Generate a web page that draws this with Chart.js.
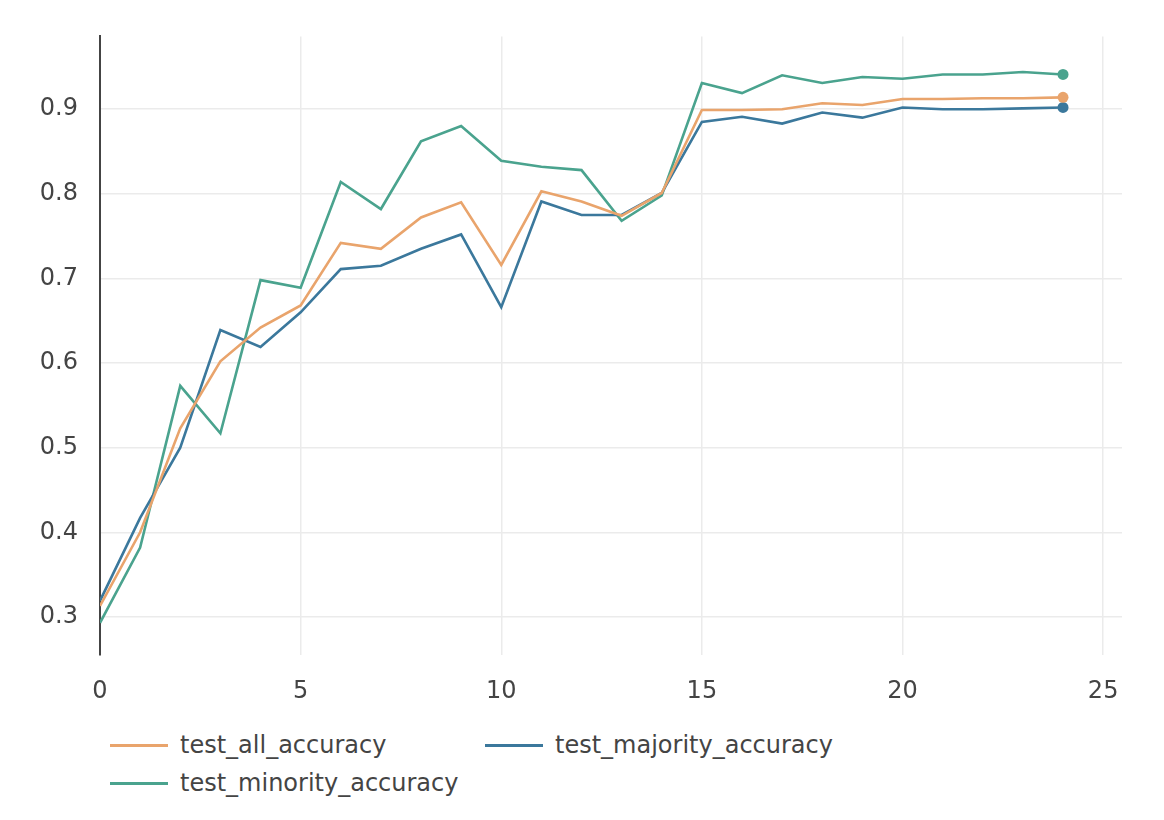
<!DOCTYPE html>
<html>
<head>
<meta charset="utf-8">
<script src="https://cdn.jsdelivr.net/npm/chart.js@4/dist/chart.umd.min.js"></script>
<style>
    body { margin: 0; background: #fff; font-family: 'DejaVu Sans', sans-serif; }
    #wrap { position: relative; width: 1164px; height: 720px; }
    #legend { position: relative; width: 1164px; height: 100px; }
    .item { position: absolute; display: flex; align-items: center; font-size: 24px; color: #444; line-height: 30px; }
    .item span.line { display: inline-block; width: 58px; height: 3px; margin-right: 12px; }
</style>
</head>
<body>
<div id="wrap"><canvas id="chart"></canvas></div>
<div id="legend"></div>
<script>
// Dados
const epocas = [0,1,2,3,4,5,6,7,8,9,10,11,12,13,14,15,16,17,18,19,20,21,22,23,24];
const testAll = [0.313,0.400,0.523,0.602,0.642,0.668,0.742,0.735,0.772,0.790,0.716,0.803,0.791,0.774,0.801,0.899,0.899,0.900,0.907,0.905,0.912,0.912,0.913,0.913,0.914];
const testMajority = [0.319,0.417,0.500,0.639,0.619,0.660,0.711,0.715,0.735,0.752,0.666,0.791,0.775,0.775,0.801,0.885,0.891,0.883,0.896,0.890,0.902,0.900,0.900,0.901,0.902];
const testMinority = [0.293,0.382,0.573,0.517,0.698,0.689,0.814,0.782,0.862,0.880,0.839,0.832,0.828,0.768,0.798,0.931,0.919,0.940,0.931,0.938,0.936,0.941,0.941,0.944,0.941];
const xTicks = [0,5,10,15,20,25];
const yTicks = [0.3,0.4,0.5,0.6,0.7,0.8,0.9];

const series = [
    { nome: 'test_all_accuracy', valores: testAll, cor: '#e9a46c' },
    { nome: 'test_majority_accuracy', valores: testMajority, cor: '#3b789c' },
    { nome: 'test_minority_accuracy', valores: testMinority, cor: '#4aa38e' }
];

// Só o último ponto tem marcador
const ultimo = ctx => ctx.dataIndex === epocas.length - 1 ? 5.5 : 0;

const datasets = series.map(s => ({
    label: s.nome,
    data: s.valores.map((v, i) => ({ x: epocas[i], y: v })),
    borderColor: s.cor,
    backgroundColor: s.cor,
    borderWidth: 2.6,
    pointRadius: ultimo,
    pointBorderWidth: 0,
    tension: 0
}));

const fonteEixo = { family: 'DejaVu Sans', size: 24 };

new Chart(document.getElementById('chart').getContext('2d'), {
    type: 'line',
    data: { datasets: datasets },
    options: {
        responsive: true,
        maintainAspectRatio: false,
        animation: false,
        events: [],
        layout: { padding: { top: 36, right: 42, left: 0, bottom: 0 } },
        plugins: { legend: { display: false }, tooltip: { enabled: false } },
        scales: {
            x: {
                type: 'linear',
                min: 0,
                max: 25.47,
                afterBuildTicks: scale => { scale.ticks = xTicks.map(v => ({ value: v })); },
                afterFit: scale => { scale.height = 65; },
                grid: { color: '#ebebeb', lineWidth: 1.5, drawTicks: false },
                border: { display: false },
                ticks: { color: '#444', font: fonteEixo, padding: 22, maxRotation: 0 }
            },
            y: {
                min: 0.255,
                max: 0.986,
                afterBuildTicks: scale => { scale.ticks = yTicks.map(v => ({ value: v })); },
                afterFit: scale => { scale.width = 100; },
                grid: { color: '#ebebeb', lineWidth: 1.5, drawTicks: false },
                border: { display: true, color: '#444', width: 2 },
                ticks: {
                    color: '#444',
                    font: fonteEixo,
                    padding: 22,
                    callback: v => v.toFixed(1)
                }
            }
        }
    }
});

// Legenda
const posicoes = [
    { left: 110, top: 10 },
    { left: 485, top: 10 },
    { left: 110, top: 48 }
];
const legenda = document.getElementById('legend');
legenda.innerHTML = series.map((s, i) => `
    <div class="item" style="left:${posicoes[i].left}px; top:${posicoes[i].top}px;">
        <span class="line" style="background:${s.cor}"></span>${s.nome}
    </div>
`).join('');
</script>
</body>
</html>
